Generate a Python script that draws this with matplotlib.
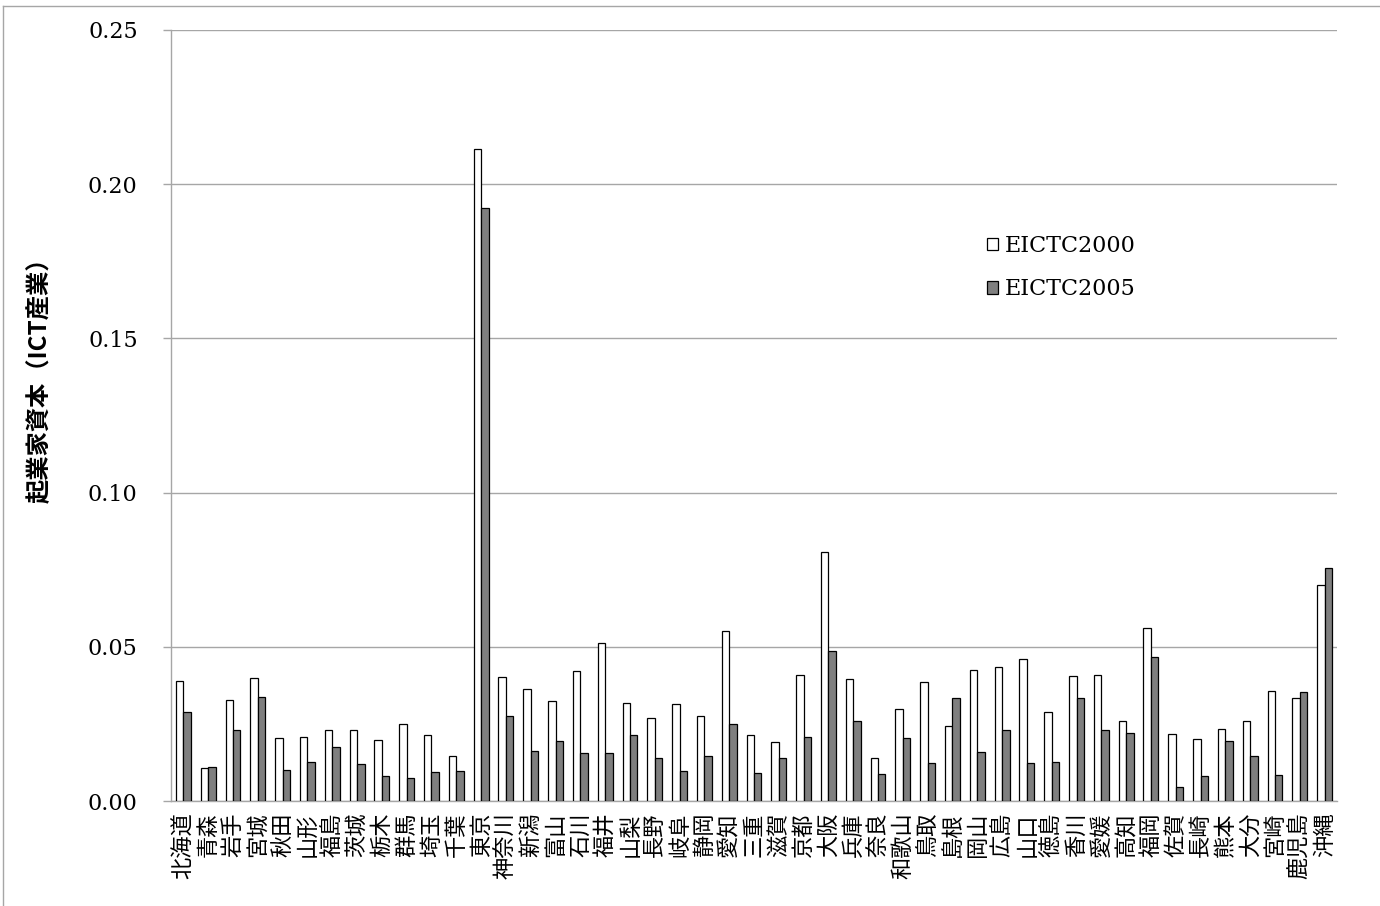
import numpy as np
import matplotlib
matplotlib.use("Agg")
import matplotlib.pyplot as plt
from matplotlib.lines import Line2D

plt.rcParams['font.family'] = ['Noto Sans CJK JP', 'DejaVu Sans']

prefs = ['北海道', '青森', '岩手', '宮城', '秋田', '山形', '福島', '茨城', '栃木', '群馬',
         '埼玉', '千葉', '東京', '神奈川', '新潟', '富山', '石川', '福井', '山梨', '長野',
         '岐阜', '静岡', '愛知', '三重', '滋賀', '京都', '大阪', '兵庫', '奈良', '和歌山',
         '鳥取', '島根', '岡山', '広島', '山口', '徳島', '香川', '愛媛', '高知', '福岡',
         '佐賀', '長崎', '熊本', '大分', '宮崎', '鹿児島', '沖縄']

eictc2000 = [0.0388, 0.0108, 0.0328, 0.0399, 0.0203, 0.0209, 0.0229, 0.0229, 0.0199, 0.0250,
             0.0213, 0.0145, 0.2114, 0.0402, 0.0364, 0.0325, 0.0421, 0.0513, 0.0318, 0.0268,
             0.0314, 0.0277, 0.0550, 0.0213, 0.0192, 0.0409, 0.0808, 0.0396, 0.0139, 0.0298,
             0.0387, 0.0244, 0.0425, 0.0436, 0.0459, 0.0287, 0.0404, 0.0409, 0.0259, 0.0561,
             0.0218, 0.0200, 0.0234, 0.0260, 0.0356, 0.0335, 0.0701]

eictc2005 = [0.0287, 0.0110, 0.0229, 0.0338, 0.0102, 0.0125, 0.0176, 0.0121, 0.0082, 0.0074,
             0.0093, 0.0098, 0.1923, 0.0274, 0.0163, 0.0196, 0.0156, 0.0156, 0.0213, 0.0141,
             0.0097, 0.0147, 0.0249, 0.0090, 0.0138, 0.0206, 0.0487, 0.0259, 0.0086, 0.0203,
             0.0122, 0.0335, 0.0160, 0.0231, 0.0123, 0.0125, 0.0333, 0.0231, 0.0221, 0.0466,
             0.0044, 0.0082, 0.0195, 0.0147, 0.0085, 0.0353, 0.0754]

yticks = [0.00, 0.05, 0.10, 0.15, 0.20, 0.25]

grid_col = '#a6a6a6'
dark_col = '#7f7f7f'

fig = plt.figure(figsize=(13.8, 9.06), dpi=100)
ax = fig.add_axes([171 / 1380, 1 - 801 / 906, 1166 / 1380, 771 / 906])

x = np.arange(len(prefs))
w = 0.3
ax.bar(x - w / 2, eictc2000, w, color='white', edgecolor='black', linewidth=0.9,
       label='EICTC2000', zorder=3)
ax.bar(x + w / 2, eictc2005, w, color=dark_col, edgecolor='black', linewidth=0.9,
       label='EICTC2005', zorder=3)

ax.set_xlim(-0.5, len(prefs) - 0.5)
ax.set_ylim(0, 0.25)
ax.set_yticks(yticks)
ax.set_yticklabels(['%.2f' % v for v in yticks], family='DejaVu Serif', fontsize=16)
ax.set_xticks(x)
ax.set_xticklabels(prefs, rotation=90, fontsize=16)

ax.yaxis.grid(True, color=grid_col, linewidth=1.0, zorder=0)
ax.tick_params(axis='y', direction='out', length=6, width=1.0, color=grid_col, pad=18)
ax.tick_params(axis='x', length=0, pad=8)
for s in ['top', 'right']:
    ax.spines[s].set_visible(False)
for s in ['left', 'bottom']:
    ax.spines[s].set_color(grid_col)
    ax.spines[s].set_linewidth(1.0)

leg = ax.legend(loc='upper left', bbox_to_anchor=(816 / 1166, (801 - 235) / 771),
                frameon=False, prop={'family': 'DejaVu Serif', 'size': 16},
                handlelength=0.5, handleheight=0.5, handletextpad=0.3,
                labelspacing=0.95, borderpad=0, borderaxespad=0)

fig.text(40 / 1380, 1 - 374 / 906, '起業家資本（ICT産業）', rotation=90, ha='center',
         va='center', fontsize=17.5, fontweight='bold')

# outer chart frame
fig.add_artist(Line2D([3.5 / 1380, 3.5 / 1380], [0, 1 - 5.5 / 906], color=grid_col, linewidth=1.0))
fig.add_artist(Line2D([3.5 / 1380, 1], [1 - 5.5 / 906, 1 - 5.5 / 906], color=grid_col, linewidth=1.0))

fig.savefig('out.png', dpi=100)
